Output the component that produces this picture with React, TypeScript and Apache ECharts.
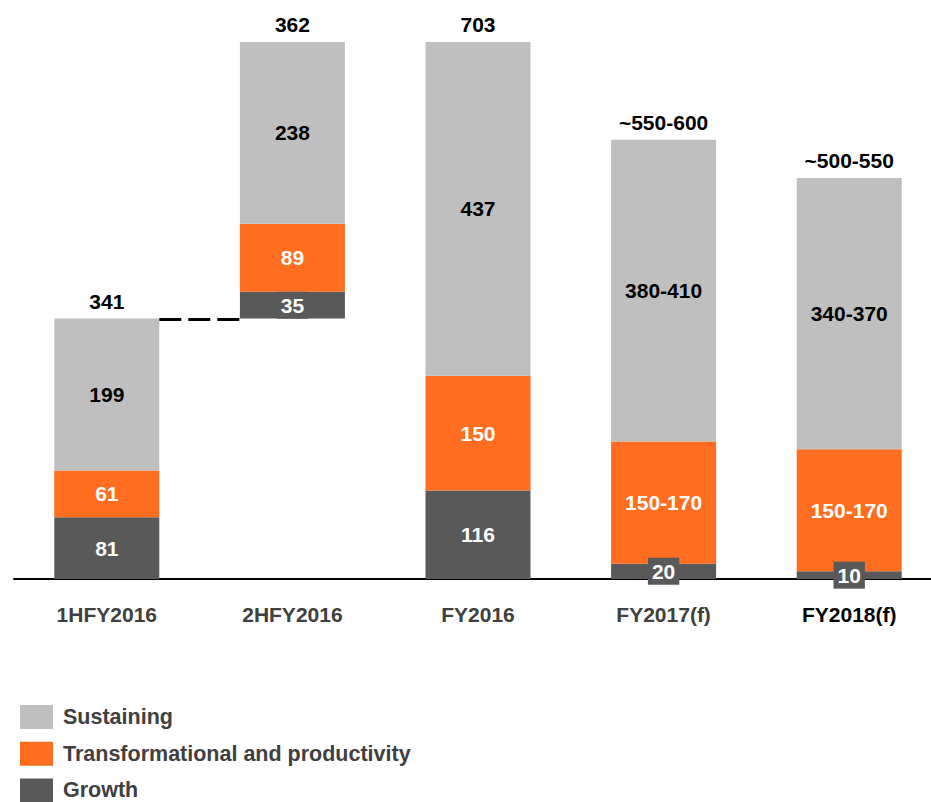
import React, { useEffect, useRef } from "react";
import * as echarts from "echarts";

const categories = ["1HFY2016", "2HFY2016", "FY2016", "FY2017(f)", "FY2018(f)"];
const baseValues = [0, 341, 0, 0, 0];
const growthValues = [81, 35, 116, 20, 10];
const transformValues = [61, 89, 150, 160, 160];
const sustainingValues = [199, 238, 437, 395, 355];
const growthLabels = ["81", "35", "116", "20", "10"];
const transformLabels = ["61", "89", "150", "150-170", "150-170"];
const sustainingLabels = ["199", "238", "437", "380-410", "340-370"];
const totalLabels = ["341", "362", "703", "~550-600", "~500-550"];
const legendNames = ["Sustaining", "Transformational and productivity", "Growth"];
const connectorLevel = 341;

const FONT = "'Liberation Sans', Arial, Helvetica, sans-serif";
const C_SUST = "#BFBFBF";
const C_TRANS = "#FF6D21";
const C_GROWTH = "#595959";
const BAR_W = 105;
const CANVAS_W = 960;

export default function App() {
  const ref = useRef<HTMLDivElement>(null);
  useEffect(() => {
    if (!ref.current) return;
    const chart = echarts.init(ref.current, undefined, { renderer: "svg" });
    const labelBase = {
      show: true,
      position: "inside",
      fontFamily: FONT,
      fontSize: 21,
      fontWeight: "bold",
    };
    chart.setOption({
      animation: false,
      backgroundColor: "#ffffff",
      grid: { left: 14, width: 928, top: 42, bottom: 223, containLabel: false },
      legend: legendNames.map((name, i) => ({
        orient: "vertical",
        left: 20,
        top: 705 + i * 36.7,
        padding: 0,
        itemWidth: 33,
        itemHeight: 24,
        icon: "rect",
        selectedMode: false,
        data: [name],
        textStyle: {
          fontFamily: FONT,
          fontSize: 21.5,
          fontWeight: "bold",
          color: "#404040",
          padding: [0, 0, 0, 5],
        },
      })),
      xAxis: {
        type: "category",
        data: categories,
        axisLine: { show: true, lineStyle: { color: "#000000", width: 2 } },
        axisTick: { show: false },
        axisLabel: {
          margin: 25,
          fontFamily: FONT,
          fontSize: 21,
          fontWeight: "bold",
          color: (_v: any, i: number) => (i === categories.length - 1 ? "#000000" : "#404040"),
        },
      },
      yAxis: {
        type: "value",
        min: 0,
        max: 703,
        show: false,
        splitLine: { show: false },
      },
      series: [
        {
          name: "base",
          type: "bar",
          stack: "a",
          barWidth: BAR_W,
          data: baseValues,
          itemStyle: { color: "transparent" },
          label: { show: false },
          emphasis: { disabled: true },
          silent: true,
        },
        {
          name: "Growth",
          type: "bar",
          stack: "a",
          barWidth: BAR_W,
          data: growthValues,
          itemStyle: { color: C_GROWTH },
          label: {
            ...labelBase,
            color: "#ffffff",
            backgroundColor: C_GROWTH,
            padding: [3, 4],
            formatter: (p: any) => growthLabels[p.dataIndex],
          },
        },
        {
          name: "Transformational and productivity",
          type: "bar",
          stack: "a",
          barWidth: BAR_W,
          data: transformValues,
          itemStyle: { color: C_TRANS },
          label: {
            ...labelBase,
            color: "#ffffff",
            formatter: (p: any) => transformLabels[p.dataIndex],
          },
        },
        {
          name: "Sustaining",
          type: "bar",
          stack: "a",
          barWidth: BAR_W,
          data: sustainingValues,
          itemStyle: { color: C_SUST },
          label: {
            ...labelBase,
            color: "#000000",
            formatter: (p: any) => sustainingLabels[p.dataIndex],
          },
        },
        {
          name: "Total",
          type: "bar",
          stack: "a",
          barWidth: BAR_W,
          data: categories.map(() => 0),
          itemStyle: { color: "transparent" },
          label: {
            ...labelBase,
            position: "top",
            distance: 7,
            color: "#000000",
            formatter: (p: any) => totalLabels[p.dataIndex],
          },
        },
      ],
    });
    const p0 = chart.convertToPixel({ gridIndex: 0 }, [0, connectorLevel]) as number[];
    const p1 = chart.convertToPixel({ gridIndex: 0 }, [1, connectorLevel]) as number[];
    if (p0 && p1) {
      chart.setOption({
        graphic: [
          {
            type: "line",
            shape: { x1: p0[0] + BAR_W / 2, y1: p0[1] + 1, x2: p1[0] - BAR_W / 2, y2: p1[1] + 1 },
            style: { stroke: "#000000", lineWidth: 3, lineDash: [22, 7] },
            z: 10,
          },
        ],
      });
    }
    return () => chart.dispose();
  }, []);
  return (
    <div style={{ position: "absolute", left: 0, top: 0, width: 931, height: 802, overflow: "hidden" }}>
      <div ref={ref} style={{ width: CANVAS_W, height: 802 }} />
    </div>
  );
}
